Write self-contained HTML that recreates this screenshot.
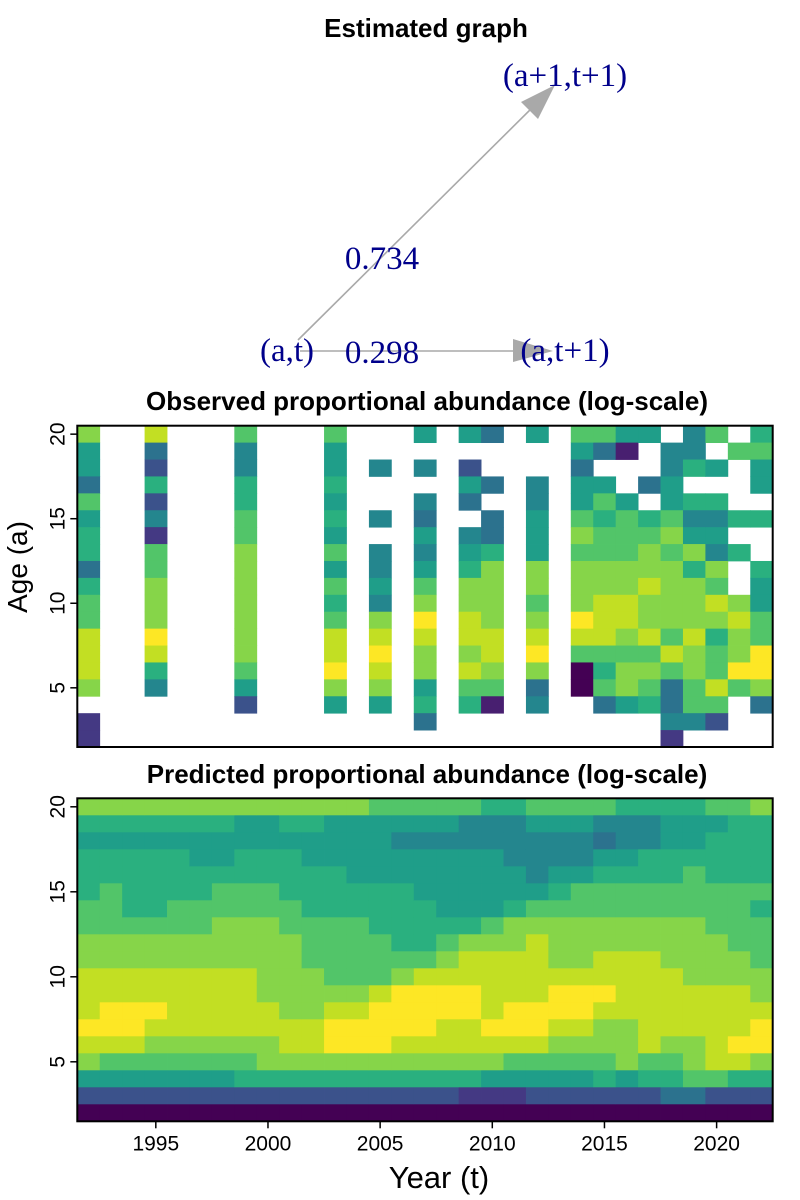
<!DOCTYPE html>
<html><head><meta charset="utf-8"><style>
html,body{margin:0;padding:0;background:#fff;}
svg{display:block;font-family:"Liberation Sans",sans-serif;}
</style></head><body>
<svg id="fig" width="800" height="1200" viewBox="0 0 800 1200">
  <text x="426" y="37" text-anchor="middle" font-size="26" font-weight="bold">Estimated graph</text>
  <g>
    <line x1="298" y1="340" x2="540" y2="100" stroke="#a9a9a9" stroke-width="1.6"/>
    <polygon points="555,85 521,102 538,119" fill="#a9a9a9"/>
    <line x1="300" y1="351" x2="520" y2="351" stroke="#a9a9a9" stroke-width="1.6"/>
    <polygon points="553,351 513,339 513,362" fill="#a9a9a9"/>
    <g font-family="Liberation Serif,serif" font-size="33" fill="#00008b">
      <text x="565" y="86" text-anchor="middle">(a+1,t+1)</text>
      <text x="287" y="361" text-anchor="middle">(a,t)</text>
      <text x="565" y="361" text-anchor="middle">(a,t+1)</text>
      <text x="382" y="269" text-anchor="middle">0.734</text>
      <text x="382" y="363" text-anchor="middle">0.298</text>
    </g>
  </g>
  <text x="427" y="410" text-anchor="middle" font-size="26" font-weight="bold">Observed proportional abundance (log-scale)</text>
  <text x="427" y="783" text-anchor="middle" font-size="26" font-weight="bold">Predicted proportional abundance (log-scale)</text>
  <text transform="translate(27,567) rotate(-90)" text-anchor="middle" font-size="28">Age (a)</text>
  <text x="439" y="1188" text-anchor="middle" font-size="31">Year (t)</text>
  <g id="obs"></g>
  <g id="pred"></g>
</svg>
<script>
const years = [1992,1993,1994,1995,1996,1997,1998,1999,2000,2001,2002,2003,2004,2005,2006,2007,2008,2009,2010,2011,2012,2013,2014,2015,2016,2017,2018,2019,2020,2021,2022];
const ages = [20,19,18,17,16,15,14,13,12,11,10,9,8,7,6,5,4,3,2];
const xTicks = [1995,2000,2005,2010,2015,2020];
const yTicks = [5,10,15,20];
const palette = ["#440154","#481f70","#443983","#3b528b","#2c728e","#24868e","#1f9e89","#2ab07f","#52c569","#86d549","#c2df23","#fde725"];
const N = null;
const E = [N,N,N,N,N,N,N,N,N,N,N,N,N,N,N,N,N,N,N];
// observed, one array per year, ages 20 -> 2
const observedByYear = [
 [9,6,6,4,8,6,7,7,4,7,8,8,10,10,10,9,N,2,2],
 E,E,
 [10,4,3,7,3,5,2,8,8,9,9,9,11,10,7,5,N,N,N],
 E,E,E,
 [8,5,5,7,7,8,8,9,9,9,9,9,9,9,8,6,3,N,N],
 E,E,E,
 [8,6,6,7,6,7,6,8,6,8,7,8,10,10,11,9,6,N,N],
 E,
 [N,N,5,N,N,5,N,5,5,6,5,9,10,11,10,9,6,N,N],
 E,
 [6,N,5,N,5,4,6,5,6,8,9,11,10,9,9,6,7,4,N],
 E,
 [6,N,3,6,4,N,5,6,7,9,9,10,10,9,10,8,7,N,N],
 [4,N,N,4,N,4,4,7,9,9,9,9,10,10,9,8,1,N,N],
 E,
 [6,N,N,5,5,6,6,6,9,9,8,9,10,11,9,4,5,N,N],
 E,
 [8,6,4,6,6,8,9,8,9,9,9,11,10,8,0,0,N,N,N],
 [8,4,N,6,8,7,8,8,9,9,10,10,10,8,7,8,4,N,N],
 [6,1,N,N,6,8,8,8,9,9,10,10,9,8,9,9,6,N,N],
 [6,N,N,4,N,7,8,9,9,10,9,9,10,8,9,8,7,N,N],
 [N,5,5,6,6,8,9,8,9,9,9,9,8,10,8,4,4,5,2],
 [5,5,7,N,7,5,6,9,7,9,9,9,10,9,9,8,8,5,N],
 [8,N,6,N,7,5,6,5,9,8,10,9,7,8,8,10,8,3,N],
 [N,8,N,N,N,7,N,7,N,N,9,10,9,9,11,8,N,N,N],
 [7,8,6,6,N,7,N,N,7,6,6,8,8,11,11,9,4,N,N]
];
// predicted, one array per age (20 -> 2), across years
const predictedByAge = [
 [9,9,9,9,9,9,9,9,9,9,9,9,9,8,8,8,8,8,7,7,8,8,8,8,7,7,7,7,8,8,9],
 [7,7,7,7,7,7,7,6,6,7,7,6,6,6,6,6,6,5,5,5,6,6,6,5,5,5,6,6,6,7,7],
 [6,6,6,6,6,6,6,6,6,6,6,6,6,6,5,5,5,5,5,5,5,5,5,4,5,5,6,6,7,7,7],
 [7,7,7,7,7,6,6,7,7,7,6,6,6,6,6,6,6,6,6,5,5,5,5,6,6,7,7,7,7,7,7],
 [7,7,7,7,7,7,7,7,7,7,7,7,6,6,6,6,6,6,6,6,5,6,6,7,7,7,7,8,7,7,7],
 [7,8,7,7,7,7,8,8,8,7,7,7,7,7,7,6,6,6,6,6,6,7,8,8,8,8,8,8,8,8,8],
 [8,8,7,7,8,8,8,8,8,8,7,7,7,7,7,7,6,6,6,7,8,8,8,8,8,8,8,8,8,8,7],
 [8,8,8,8,8,8,9,9,9,8,8,8,8,7,7,7,7,7,8,9,9,9,9,9,9,9,9,9,8,8,8],
 [9,9,9,9,9,9,9,9,9,9,8,8,8,8,7,7,8,9,9,9,10,9,9,9,9,9,9,9,9,8,8],
 [9,9,9,9,9,9,9,9,9,9,8,8,8,8,8,8,9,10,10,10,10,9,9,10,10,10,9,9,9,9,8],
 [10,10,10,10,10,10,10,10,9,9,9,8,8,8,9,10,10,10,10,10,10,10,10,10,10,10,10,9,9,9,9],
 [10,10,10,10,10,10,10,10,9,9,9,9,9,10,11,11,11,11,10,10,10,11,11,11,10,10,10,10,10,10,9],
 [10,11,11,11,10,10,10,10,10,9,9,10,10,11,11,11,11,11,10,11,11,11,11,10,10,10,10,10,10,10,10],
 [11,11,11,10,10,10,10,10,10,10,10,11,11,11,11,11,10,10,11,11,11,10,10,9,9,10,10,10,10,10,11],
 [10,10,10,9,9,9,9,9,9,10,10,11,11,11,10,10,10,10,10,10,10,9,9,9,9,10,9,9,10,11,11],
 [9,8,8,8,8,8,8,8,9,9,9,9,9,9,9,9,9,9,9,8,8,8,8,8,9,8,8,9,10,10,9],
 [6,6,6,6,6,6,6,7,7,7,7,7,7,7,7,7,7,7,6,6,6,6,6,7,6,7,7,8,8,7,7],
 [3,3,3,3,3,3,3,3,3,3,3,3,3,3,3,3,3,2,2,2,3,3,3,3,3,3,4,4,3,3,3],
 [0,0,0,0,0,0,0,0,0,0,0,0,0,0,0,0,0,0,0,0,0,0,0,0,0,0,0,0,0,0,0]
];
const NS = "http://www.w3.org/2000/svg";
const X0 = 77.3, X1 = 772.7;
const colW = (X1 - X0) / years.length;
function xEdge(yr){ return X0 + (yr - years[0]) * colW; }
function xCenter(yr){ return X0 + (yr - years[0] + 0.5) * colW; }
function makeY(top, bottom){
  const h = (bottom - top) / ages.length;
  return { h: h, edge: a => top + (20 - a) * h, center: a => top + (20.5 - a) * h };
}
function mk(tag, attrs, parent){
  const el = document.createElementNS(NS, tag);
  for (const k in attrs) el.setAttribute(k, attrs[k]);
  parent.appendChild(el);
  return el;
}
function drawPanel(g, top, bottom, getVal, prefix, showX){
  const ys = makeY(top, bottom);
  for (let i = 0; i < years.length; i++){
    for (let j = 0; j < ages.length; j++){
      const v = getVal(i, j);
      if (v === null || v === undefined) continue;
      const r = mk('rect', {x: xEdge(years[i]).toFixed(2), y: ys.edge(ages[j]).toFixed(2), width: (colW + 0.4).toFixed(2), height: (ys.h + 0.4).toFixed(2), fill: palette[v]}, g);
      
      
    }
  }
  const box = mk('rect', {x: X0, y: top, width: X1 - X0, height: bottom - top, fill: 'none', stroke: '#000', 'stroke-width': 2}, g);
  
  
  yTicks.forEach(a => {
    const yy = ys.center(a);
    const t = mk('line', {x1: X0 - 7, x2: X0, y1: yy, y2: yy, stroke: '#000', 'stroke-width': 1.5}, g);
    
    
    const l = mk('text', {transform: 'translate(' + (X0 - 13) + ',' + yy + ') rotate(-90)', 'text-anchor': 'middle', 'font-size': 21}, g);
    l.textContent = a;
    
    
  });
  if (showX){
    xTicks.forEach(yr => {
      const xx = xCenter(yr);
      const t = mk('line', {x1: xx, x2: xx, y1: bottom, y2: bottom + 7, stroke: '#000', 'stroke-width': 1.5}, g);
      
      
      const l = mk('text', {x: xx, y: bottom + 29, 'text-anchor': 'middle', 'font-size': 21}, g);
      l.textContent = yr;
      
      
    });
  }
}
drawPanel(document.getElementById('obs'), 425.7, 747, (i, j) => observedByYear[i][j], 'observed', false);
drawPanel(document.getElementById('pred'), 798.3, 1121.3, (i, j) => predictedByAge[j][i], 'predicted', true);
</script>
</body></html>
